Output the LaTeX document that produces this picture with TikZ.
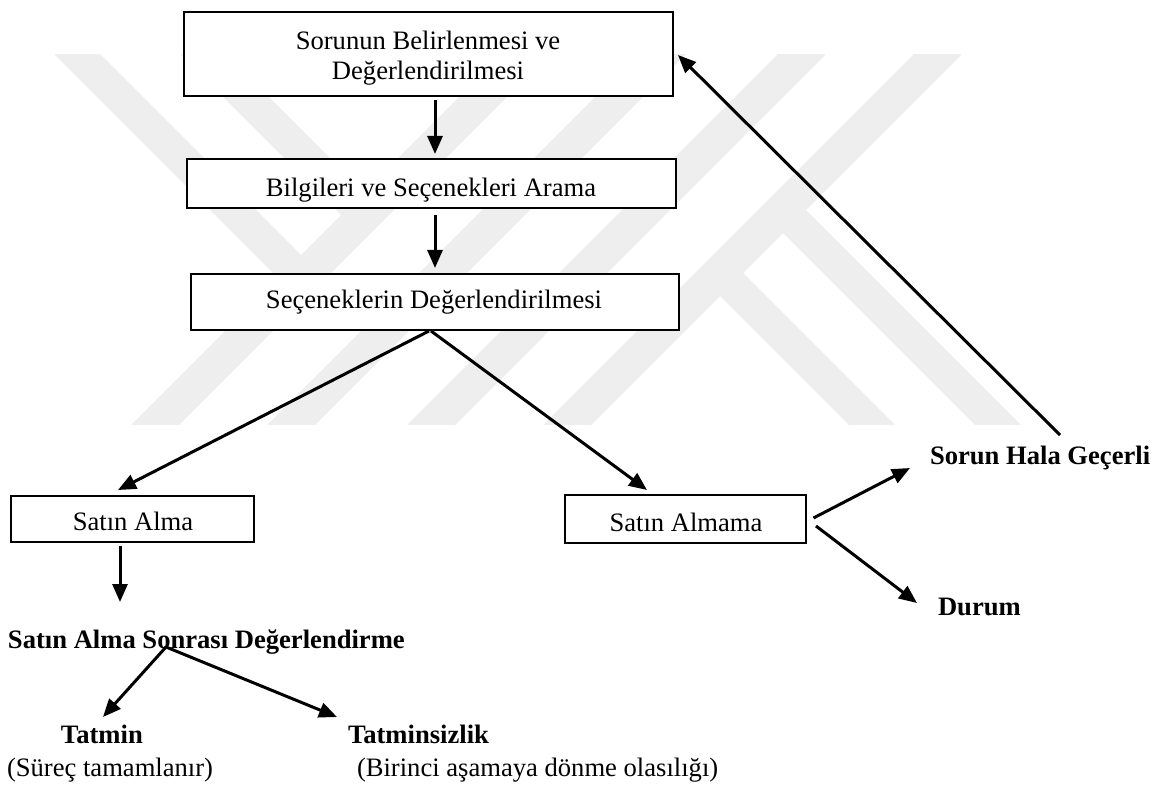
\documentclass[tikz,border=0pt]{standalone}
\usepackage{fontspec}
\setmainfont{Liberation Serif}
\usetikzlibrary{arrows.meta,calc}
\definecolor{wmgray}{RGB}{238,238,238}
\begin{document}
\begin{tikzpicture}[x=0.5pt,y=-0.5pt,
  box/.style={draw=black,line width=1.3pt,fill=white,inner sep=0pt,outer sep=0pt},
  txt/.style={inner sep=0pt,outer sep=0pt,font=\fontsize{13.3}{16}\selectfont},
  btxt/.style={inner sep=0pt,outer sep=0pt,font=\fontsize{13.3}{16}\selectfont\bfseries},
  arr/.style={line width=1.5pt,-{Triangle[length=9pt,width=7.5pt]}},
  wm/.style={fill=wmgray,draw=none}]
\useasboundingbox (0,0) rectangle (1158,786);

% faint logo in the background: diagonal stripes
\begin{scope}
  \clip (0,55) rectangle (1158,425);
  \fill[wm] (556,0) -- (604,0) -- (104,500) -- (56,500) -- cycle;
  \fill[wm] (692,0) -- (740,0) -- (240,500) -- (192,500) -- cycle;
  \fill[wm] (832,0) -- (880,0) -- (380,500) -- (332,500) -- cycle;
  \fill[wm] (968,0) -- (1016,0) -- (516,500) -- (468,500) -- cycle;
  \fill[wm] (0,0) -- (46,0) -- (313,267) -- (290,290) -- cycle;
  \fill[wm] (126,0) -- (172,0) -- (376,204) -- (353,227) -- cycle;
  \fill[wm] (771,221) -- (794,198) -- (1096,500) -- (1050,500) -- cycle;
  \fill[wm] (708,284) -- (731,261) -- (970,500) -- (924,500) -- cycle;
\end{scope}

% process boxes
\node[box,minimum width=244.5pt,minimum height=42pt] (p1) at (428.5,54) {};
\node[box,minimum width=244.5pt,minimum height=24.5pt] (p2) at (431.5,183.5) {};
\node[box,minimum width=244pt,minimum height=28pt] (p3) at (435,302) {};
\node[box,minimum width=121.5pt,minimum height=23pt] (p4) at (132.5,519) {};
\node[box,minimum width=120.5pt,minimum height=24pt] (p5) at (685.5,519) {};

% box labels
\node[txt,anchor=base] (t1a) at (428,49.5) {Sorunun Belirlenmesi ve};
\node[txt,anchor=base] (t1b) at (428,79.5) {Değerlendirilmesi};
\node[txt,anchor=base] (t2) at (431,197) {Bilgileri ve Seçenekleri Arama};
\node[txt,anchor=base] (t3) at (434,308.5) {Seçeneklerin Değerlendirilmesi};
\node[txt,anchor=base] (t4) at (133,530.5) {Satın Alma};
\node[txt,anchor=base] (t5) at (686,531) {Satın Almama};

% free labels
\node[btxt,anchor=base west] (t6) at (930,465) {Sorun Hala Geçerli};
\node[btxt,anchor=base west] (t7) at (938,615) {Durum};
\node[btxt,anchor=base west] (t8) at (8,648) {Satın Alma Sonrası Değerlendirme};
\node[btxt,anchor=base west] (t9) at (61,743) {Tatmin};
\node[txt,anchor=base west] (t10) at (7,776) {(Süreç tamamlanır)};
\node[btxt,anchor=base west] (t11) at (348,743) {Tatminsizlik};
\node[txt,anchor=base west] (t12) at (357,776) {(Birinci aşamaya dönme olasılığı)};

% connectors
\draw[arr] ($(p1.south)+(6.5,4)$) -- ($(p2.north)+(3.5,-5)$);
\draw[arr] ($(p2.south)+(3.5,7)$) -- ($(p3.north)+(0,-6)$);
\draw[arr] ($(p3.south)+(-6,1)$) -- ($(p4.north)+(-14.5,-6)$);
\draw[arr] ($(p3.south)+(-4,1)$) -- ($(p5.north)+(-38.5,-5)$);
\draw[arr] ($(p4.south)+(-12.5,4)$) -- ($(t8.base west)+(112,-46)$);
\draw[arr] ($(t8.base west)+(158,-1)$) -- ($(t9.base west)+(42,-26)$);
\draw[arr] ($(t8.base west)+(158,-1)$) -- ($(t11.base west)+(-11,-26)$);
\draw[arr] ($(p5.east)+(7.5,-1)$) -- ($(t6.base west)+(-20,3)$);
\draw[arr] ($(p5.east)+(10,7)$) -- ($(t7.base west)+(-21,-12)$);
\draw[arr] ($(t6.base west)+(130,-30)$) -- ($(p1.east)+(5,1)$);
\end{tikzpicture}
\end{document}
